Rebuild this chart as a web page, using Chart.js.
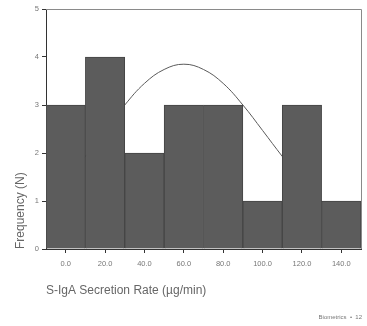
<!DOCTYPE html>
<html>
<head>
<meta charset="utf-8">
<script src="https://cdn.jsdelivr.net/npm/chart.js@4"></script>
<style>
  html, body { margin: 0; padding: 0; background: #fff; }
  #wrap { width: 367px; height: 326px; }
</style>
</head>
<body>
<div id="wrap"><canvas id="histChart" width="367" height="326"></canvas></div>
<script>
// Histogram bins (bin centres) and counts
const binCentres = [0, 20, 40, 60, 80, 100, 120, 140];
const counts = [3, 4, 2, 3, 3, 1, 3, 1];

// Fitted normal curve
const curveX = [-10, 0, 10, 20, 30, 40, 50, 60, 70, 80, 90, 100, 110, 120, 130, 140, 150];
const curveY = [0.99, 1.42, 1.93, 2.47, 3.0, 3.45, 3.74, 3.85, 3.74, 3.45, 3.0, 2.47, 1.93, 1.42, 0.99, 0.66, 0.41];

const xTicks = [0, 20, 40, 60, 80, 100, 120, 140];
const yTicks = [0, 1, 2, 3, 4, 5];

// frame around plot + footnote
const framePlugin = {
    id: 'frame',
    afterDatasetsDraw(chart) {
        const { ctx, chartArea: a } = chart;
        ctx.save();
        ctx.strokeStyle = '#8a8a8a';
        ctx.lineWidth = 1;
        ctx.beginPath();
        ctx.moveTo(a.left, a.top + 0.5);
        ctx.lineTo(a.right + 0.5, a.top + 0.5);
        ctx.lineTo(a.right + 0.5, a.bottom);
        ctx.stroke();
        ctx.font = '6px Arial, "Liberation Sans"';
        ctx.fillStyle = '#777';
        ctx.textAlign = 'right';
        ctx.textBaseline = 'middle';
        ctx.fillText('Biometrics  \u2022  12', 362, 317);
        ctx.restore();
    }
};

const ctx = document.getElementById('histChart').getContext('2d');
new Chart(ctx, {
    data: {
        datasets: [{
            type: 'bar',
            data: binCentres.map((x, i) => ({ x: x, y: counts[i] })),
            backgroundColor: '#5c5c5c',
            borderColor: '#454545',
            borderWidth: 1,
            barPercentage: 1,
            categoryPercentage: 1,
            order: 1
        },
        {
            type: 'line',
            data: curveX.map((x, i) => ({ x: x, y: curveY[i] })),
            borderColor: '#5a5a5a',
            borderWidth: 1,
            pointRadius: 0,
            tension: 0.4,
            fill: false,
            order: 2
        }]
    },
    options: {
        responsive: false,
        animation: false,
        layout: { padding: { left: 0, top: 9, right: 6, bottom: 0 } },
        plugins: { legend: { display: false }, tooltip: { enabled: false } },
        scales: {
            x: {
                type: 'linear',
                min: -10,
                max: 150,
                offset: false,
                afterBuildTicks: s => { s.ticks = xTicks.map(v => ({ value: v })); },
                afterFit: s => { s.height = 77; },
                grid: { drawOnChartArea: false, offset: false, tickLength: 4, color: '#333' },
                border: { color: '#333', width: 1 },
                ticks: {
                    padding: 6,
                    maxRotation: 0,
                    autoSkip: false,
                    color: '#777',
                    font: { size: 7.5, family: 'Arial, "Liberation Sans"' },
                    callback: v => v.toFixed(1)
                },
                title: {
                    display: true,
                    align: 'start',
                    text: 'S-IgA Secretion Rate (\u00b5g/min)',
                    color: '#666',
                    font: { size: 12, family: 'Arial, "Liberation Sans"' },
                    padding: { top: 0, bottom: 28 }
                }
            },
            y: {
                min: 0,
                max: 5,
                afterBuildTicks: s => { s.ticks = yTicks.map(v => ({ value: v })); },
                afterFit: s => { s.width = 46; },
                grid: { drawOnChartArea: false, tickLength: 4, color: '#333' },
                border: { color: '#333', width: 1 },
                ticks: {
                    padding: 3,
                    color: '#777',
                    font: { size: 7.5, family: 'Arial, "Liberation Sans"' }
                },
                title: {
                    display: true,
                    align: 'start',
                    text: 'Frequency (N)',
                    color: '#666',
                    font: { size: 12, family: 'Arial, "Liberation Sans"' },
                    padding: { top: 13, bottom: 0 }
                }
            }
        }
    },
    plugins: [framePlugin]
});
</script>
</body>
</html>
